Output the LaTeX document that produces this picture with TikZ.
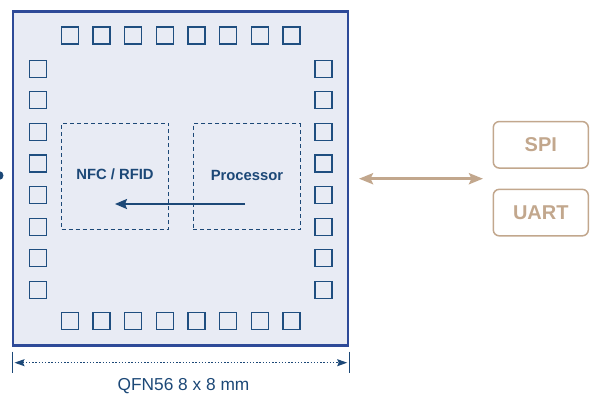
\documentclass[tikz,border=0pt]{standalone}
\usepackage{fontspec}
\setmainfont{Liberation Sans}
\usetikzlibrary{arrows.meta}
\definecolor{chipfill}{HTML}{E8EBF4}
\definecolor{chipline}{HTML}{2E4A98}
\definecolor{padline}{HTML}{1F4E80}
\definecolor{navy}{HTML}{1C4877}
\definecolor{tan}{HTML}{C2A78D}
\tikzset{
  pad/.style={draw=padline, line width=1.3pt, fill=chipfill, minimum size=17pt, inner sep=0pt},
  block/.style={draw=navy, dashed, dash pattern=on 4pt off 3pt, line width=1pt, minimum width=107pt, minimum height=106pt, inner sep=0pt},
  blocklabel/.style={text=navy, font=\bfseries\fontsize{14.8}{16}\selectfont},
  iface/.style={draw=tan, line width=1.5pt, rounded corners=6pt, minimum width=95pt, minimum height=46.5pt, inner sep=0pt, text=tan, font=\bfseries\fontsize{20}{22}\selectfont},
}
\begin{document}
\begin{tikzpicture}[x=1pt,y=-1pt]
\useasboundingbox (0,0) rectangle (590,399);
% chip
\node[draw=chipline, line width=2.3pt, fill=chipfill, minimum width=335pt, minimum height=334pt, inner sep=0pt] (chip) at (180.5,178.5) {};
% pads
\foreach \i in {0,...,7}{
  \node[pad] (t\i) at ({69.7+31.67*\i},35.5) {};
  \node[pad] (b\i) at ({69.7+31.67*\i},321.2) {};
  \node[pad] (l\i) at (38.2,{68.7+31.6*\i}) {};
  \node[pad] (r\i) at (323.5,{68.7+31.6*\i}) {};
}
% blocks
\node[block] (nfc) at (115.2,176) {};
\node[block] (proc) at (246.8,176.5) {};
\node[blocklabel] (nfct) at (115,174.5) {NFC / RFID};
\node[blocklabel] (proct) at (247,175.5) {Processor};
\coordinate (aS) at (245,204);
\coordinate (aE) at (115,204);
\draw[navy, line width=2pt, -{Stealth[length=12pt,width=10pt,inset=2pt]}] (aS) -- (aE);
% dot at left edge
\fill[navy] (-1,175.5) circle (4.5pt);
% interface
\node[iface] (spi) at (540.8,144.8) {SPI};
\node[iface] (uart) at (540.8,212.6) {UART};
\coordinate (dL) at (359,178.7);
\coordinate (dR) at (483,178.7);
\draw[tan, line width=3pt, {Stealth[length=14pt,width=11pt,inset=2.5pt]}-{Stealth[length=14pt,width=11pt,inset=2.5pt]}] (dL) -- (dR);
% dimension
\coordinate (tl1) at (12.7,351.7);
\coordinate (tl2) at (12.7,373.3);
\coordinate (tr1) at (349,351.7);
\coordinate (tr2) at (349,373.3);
\draw[navy, line width=1pt] (tl1) -- (tl2);
\draw[navy, line width=1pt] (tr1) -- (tr2);
\coordinate (mL) at (14.5,362.7);
\coordinate (mR) at (347.2,362.7);
\draw[navy, line width=1.1pt, dash pattern=on 1.3pt off 1.9pt, {Stealth[length=10pt,width=7pt,inset=1.5pt]}-{Stealth[length=10pt,width=7pt,inset=1.5pt]}] (mL) -- (mR);
\node[text=navy, font=\fontsize{17.3}{19}\selectfont] (dim) at (183.5,386) {QFN56 8 x 8 mm};
\end{tikzpicture}
\end{document}
